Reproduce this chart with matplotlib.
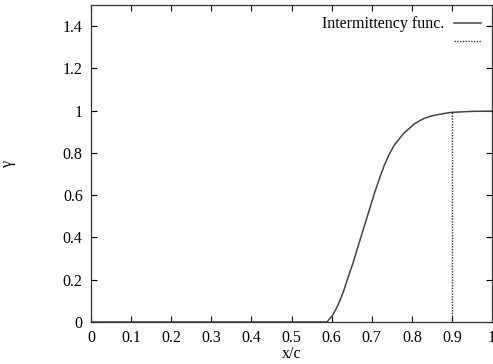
import matplotlib
matplotlib.use("Agg")
import matplotlib.pyplot as plt

# intermittency function
xc = [0.0, 0.588, 0.591, 0.603, 0.616, 0.628, 0.640, 0.653, 0.665, 0.678, 0.694,
      0.706, 0.719, 0.731, 0.744, 0.756, 0.769, 0.781, 0.794, 0.806, 0.819, 0.831,
      0.844, 0.856, 0.869, 0.884, 0.898, 0.95, 1.0]
gamma = [0.0, 0.0, 0.006, 0.033, 0.080, 0.136, 0.205, 0.277, 0.352, 0.432, 0.530,
         0.605, 0.677, 0.740, 0.795, 0.836, 0.868, 0.895, 0.917, 0.937, 0.952, 0.964,
         0.972, 0.978, 0.983, 0.988, 0.992, 0.997, 0.998]

# vertical dotted marker
x_mark = [0.9, 0.9]
y_mark = [0.0, 1.0]

xticks = [0, 0.1, 0.2, 0.3, 0.4, 0.5, 0.6, 0.7, 0.8, 0.9, 1]
xticklabels = ["0", "0.1", "0.2", "0.3", "0.4", "0.5", "0.6", "0.7", "0.8", "0.9", "1"]
yticks = [0, 0.2, 0.4, 0.6, 0.8, 1, 1.2, 1.4]
yticklabels = ["0", "0.2", "0.4", "0.6", "0.8", "1", "1.2", "1.4"]

plt.rcParams['font.family'] = ['Liberation Serif', 'DejaVu Serif']
plt.rcParams['font.size'] = 11.5

fig = plt.figure(figsize=(4.93, 3.64), dpi=100)
ax = fig.add_axes([0.1846, 0.1154, 0.8134, 0.8706])

ax.plot(xc, gamma, color='#444444', lw=1.1, label='Intermittency func.')
ax.plot(x_mark, y_mark, color='#333333', lw=1.0, ls=(0, (1, 1)), label=' ')

ax.set_xlim(0, 1)
ax.set_ylim(0, 1.5)
ax.set_xticks(xticks)
ax.set_xticklabels(xticklabels)
ax.set_yticks(yticks)
ax.set_yticklabels(yticklabels)
ax.tick_params(direction='in', top=True, right=True, length=4, width=0.8, pad=6)
for s in ax.spines.values():
    s.set_linewidth(0.9)
    s.set_color('#333333')

ax.set_xlabel('x/c', labelpad=0)
ax.set_ylabel('γ', rotation=90, labelpad=34)

leg = ax.legend(loc='upper right', frameon=False, handlelength=1.7, handletextpad=0.6,
                labelspacing=0.15, borderaxespad=0.3, markerfirst=False, fontsize=11.5)

fig.savefig('out.png', dpi=100)
